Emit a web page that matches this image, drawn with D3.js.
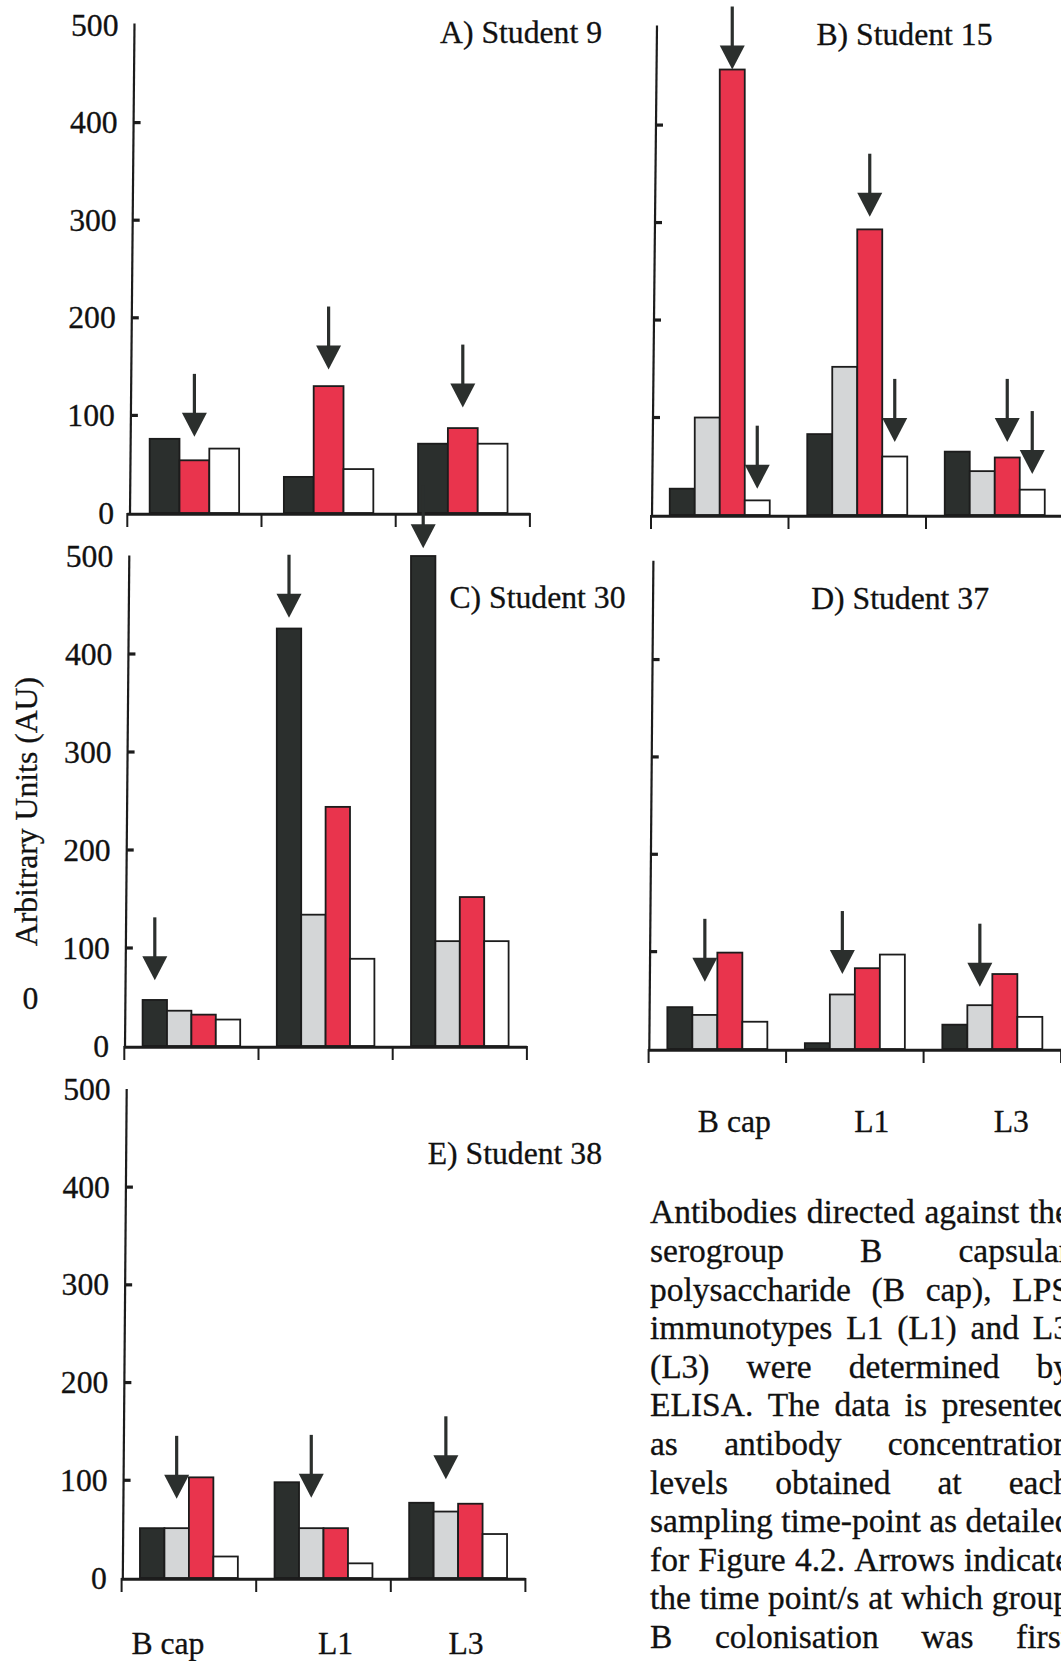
<!DOCTYPE html>
<html>
<head>
<meta charset="utf-8">
<script src="https://cdn.jsdelivr.net/npm/d3@7"></script>
<style>
  html, body { margin: 0; padding: 0; background: #fff; }
  svg { display: block; font-family: "Liberation Serif", "Times New Roman", serif; }
</style>
</head>
<body>
<svg id="fig" width="1061" height="1661"></svg>
<script>
// Antigens on the category axis and the four sampling time points (bar series)
const categories = ["B cap", "L1", "L3"];
const timePoints = ["Time point 1", "Time point 2", "Time point 3", "Time point 4"];
const tickValues = [0, 100, 200, 300, 400, 500];

// Antibody levels (AU) per time point, one row per time point, one value per antigen
const student9  = [[76, 37, 71], null, [54, 130, 87], [66, 45, 71]];
const student15 = [[27, 83, 65], [100, 152, 45], [457, 293, 59], [15, 60, 26]];
const student30 = [[47, 426, 500], [36, 134, 107], [32, 244, 152], [27, 89, 107]];
const student37 = [[43, 6, 25], [35, 56, 45], [99, 83, 77], [28, 97, 33]];
const student38 = [[51, 98, 77], [51, 51, 68], [103, 51, 76], [22, 15, 45]];

// Colonisation arrows: [antigen, time point index, level (AU) the arrow head points to]
const arrows9  = [["B cap", 2, 78], ["L1", 2, 147], ["L3", 2, 108]];
const arrows15 = [["B cap", 2, 457], ["B cap", 3, 27], ["L1", 2, 306], ["L1", 3, 75], ["L3", 2, 75], ["L3", 3, 42]];
const arrows30 = [["B cap", 0, 67], ["L1", 0, 437], ["L3", 0, 508]];
const arrows37 = [["B cap", 1, 69], ["L1", 1, 77], ["L3", 1, 64]];
const arrows38 = [["B cap", 1, 81], ["L1", 1, 82], ["L3", 1, 101]];

// Caption set beside the last panel
const captionLines = [
  "Antibodies directed against the",
  "serogroup B capsular",
  "polysaccharide (B cap), LPS",
  "immunotypes L1 (L1) and L3",
  "(L3) were determined by",
  "ELISA. The data is presented",
  "as antibody concentration",
  "levels obtained at each",
  "sampling time-point as detailed",
  "for Figure 4.2. Arrows indicate",
  "the time point/s at which group",
  "B colonisation was first"
];

const fills = ["#2b2f2d", "#d4d6d7", "#e9344d", "#ffffff"];
const ink = "#1c1c1c";
const FS = 31.7;                  // chart text size

// Panel frames
const panels = [
  { title: "A) Student 9",  data: student9,  arrows: arrows9,  x0: 127.3, band: 134.2, y0: 513,  y500: 25,
    axTop: 23.5, axXTop: 134.5, axXBot: 130, labels: true,  titleX: 602,   titleY: 32.5 },
  { title: "B) Student 15", data: student15, arrows: arrows15, x0: 651,   band: 137.5, y0: 515,  y500: 27.6,
    axTop: 25.4, axXTop: 657,   axXBot: 652, labels: false, titleX: 992.5, titleY: 34 },
  { title: "C) Student 30", data: student30, arrows: arrows30, x0: 124.3, band: 134.2, y0: 1046, y500: 556,
    axTop: 555.4, axXTop: 129.3, axXBot: 125, labels: true,  titleX: 625.5, titleY: 597.5 },
  { title: "D) Student 37", data: student37, arrows: arrows37, x0: 648.6, band: 137.5, y0: 1049, y500: 562.2,
    axTop: 560.7, axXTop: 653.4, axXBot: 649.3, labels: false, titleX: 989,  titleY: 598.2 },
  { title: "E) Student 38", data: student38, arrows: arrows38, x0: 121.6, band: 134.6, y0: 1578, y500: 1089.4,
    axTop: 1089, axXTop: 126.7, axXBot: 122.8, labels: true,  titleX: 602,   titleY: 1153.3 }
];

const svg = d3.select("#fig");
svg.append("rect").attr("width", 1061).attr("height", 1661).attr("fill", "#fff");

function putText(parent, x, y, str, anchor, size, rotate) {
  return parent.append("text")
    .attr("transform", `translate(${x},${y})` + (rotate ? ` rotate(${rotate})` : ""))
    .attr("text-anchor", anchor)
    .attr("font-size", size)
    .attr("fill", "#111")
    .attr("stroke", "#111")
    .attr("stroke-width", 0.3)
    .text(str);
}

const arrowLayer = [];

panels.forEach(p => {
  const g = svg.append("g");
  const x = d3.scaleBand().domain(categories).range([p.x0, p.x0 + p.band * categories.length])
    .paddingInner(0).paddingOuter(0);
  const present = timePoints.map((t, i) => i).filter(i => p.data[i] !== null);
  const inner = d3.scaleBand().domain(present).range([0, x.bandwidth()])
    .paddingInner(0).paddingOuter(0.75);
  const y = d3.scaleLinear().domain([0, 500]).range([p.y0, p.y500]);
  const axisX = v => p.axXBot + (p.axXTop - p.axXBot) * (p.y0 - v) / (p.y0 - p.axTop);

  // bars
  const bars = [];
  present.forEach(s => p.data[s].forEach((v, c) => bars.push({ s, c: categories[c], v })));
  g.selectAll("rect.bar").data(bars).join("rect")
    .attr("class", "bar")
    .attr("x", d => x(d.c) + inner(d.s))
    .attr("width", inner.bandwidth())
    .attr("y", d => y(d.v))
    .attr("height", d => y(0) - y(d.v))
    .attr("fill", d => fills[d.s])
    .attr("stroke", ink)
    .attr("stroke-width", 1.8);

  // value axis
  g.append("line")
    .attr("x1", p.axXBot).attr("y1", p.y0 + 1)
    .attr("x2", p.axXTop).attr("y2", p.axTop)
    .attr("stroke", ink).attr("stroke-width", 2.2);
  g.selectAll("line.ytick").data(tickValues.filter(t => t > 0 && t < 500)).join("line")
    .attr("class", "ytick")
    .attr("x1", d => axisX(y(d))).attr("x2", d => axisX(y(d)) + 7)
    .attr("y1", d => y(d)).attr("y2", d => y(d))
    .attr("stroke", ink).attr("stroke-width", 3.2);
  if (p.labels) {
    tickValues.forEach(t => putText(g, axisX(y(t)) - 16, y(t) + 10.5, d3.format("d")(t), "end", FS));
  }

  // category axis
  const edges = categories.map(c => x(c)).concat([x(categories[categories.length - 1]) + x.bandwidth()]);
  g.append("line")
    .attr("x1", p.x0).attr("x2", edges[edges.length - 1])
    .attr("y1", p.y0 + 1.2).attr("y2", p.y0 + 1.2)
    .attr("stroke", ink).attr("stroke-width", 3);
  g.selectAll("line.xtick").data(edges).join("line")
    .attr("class", "xtick")
    .attr("x1", d => d).attr("x2", d => d)
    .attr("y1", p.y0).attr("y2", p.y0 + 14)
    .attr("stroke", ink).attr("stroke-width", 2);

  putText(g, p.titleX, p.titleY + 10.5, p.title, "end", FS);

  p.arrows.forEach(([c, s, level]) => {
    arrowLayer.push({ cx: x(c) + inner(s) + inner.bandwidth() / 2, tip: y(level) });
  });
  p.xScale = x;
});

// antigen labels under the bottom panels (typed with uneven spacing under each axis)
[[panels[3], 1131.5, [17, 17, 19]], [panels[4], 1654, [-21, 12, 8]]].forEach(([p, base, nudge]) => {
  categories.forEach((c, i) =>
    putText(svg, p.xScale(c) + p.xScale.bandwidth() / 2 + nudge[i], base, c, "middle", FS));
});

// colonisation arrows drawn on top of everything
const ag = svg.append("g");
arrowLayer.forEach(a => {
  ag.append("line")
    .attr("x1", a.cx).attr("x2", a.cx)
    .attr("y1", a.tip - 63).attr("y2", a.tip - 20)
    .attr("stroke", fills[0]).attr("stroke-width", 3.2);
  ag.append("path")
    .attr("d", `M${a.cx - 12.5},${a.tip - 24} L${a.cx + 12.5},${a.tip - 24} L${a.cx},${a.tip} Z`)
    .attr("fill", fills[0]);
});

// shared value-axis title
putText(svg, 36.5, 811.6, "Arbitrary Units (AU)", "middle", FS, -90);
putText(svg, 30.4, 1009, "0", "middle", FS);

// justified caption
const capFS = 33.5, capX = 650, capW = 420, capBase = 1223.4, capLead = 38.6;
captionLines.forEach((line, i) => {
  const words = line.split(" ");
  const nodes = words.map(w => svg.append("text")
    .attr("font-size", capFS).attr("fill", "#111")
    .attr("stroke", "#111").attr("stroke-width", 0.3).text(w));
  const widths = nodes.map(n => n.node().getComputedTextLength());
  const total = d3.sum(widths);
  const gap = words.length > 1 ? Math.max((capW - total) / (words.length - 1), 0.25 * capFS) : 0;
  let cx = capX;
  nodes.forEach((n, k) => {
    n.attr("transform", `translate(${cx},${capBase + i * capLead})`);
    cx += widths[k] + gap;
  });
});
</script>
</body>
</html>
